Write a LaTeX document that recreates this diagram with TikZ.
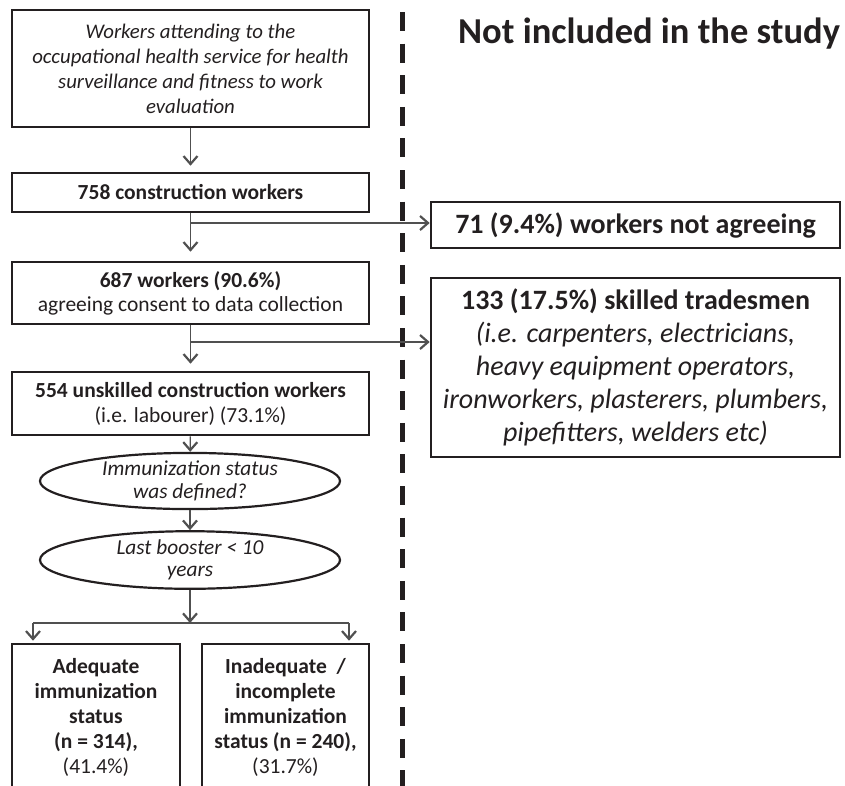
\documentclass[tikz,border=0pt]{standalone}
\usepackage{fontspec}
\setmainfont{Carlito}
\usetikzlibrary{arrows.meta,shapes.geometric}
\definecolor{ink}{HTML}{231F20}
\definecolor{linegray}{HTML}{505050}
\tikzset{
  box/.style={draw=ink, line width=2.6pt, align=center, text=ink, inner sep=0pt, font=\fontsize{21.5}{25}\selectfont},
  sidebox/.style={box, font=\fontsize{28}{33}\selectfont},
  oval/.style={ellipse, draw=ink, line width=2.2pt, align=center, text=ink, inner sep=0pt, minimum width=300pt, minimum height=49pt, font=\fontsize{21.3}{22.5}\selectfont\itshape},
  arrow/.style={-{Straight Barb[length=8pt, width=14pt, line width=2.2pt]}, line width=1.4pt, draw=linegray},
  link/.style={line width=1.4pt, draw=linegray},
  divider/.style={draw=ink, line width=5pt, dash pattern=on 19pt off 12.6pt}
}
\begin{document}
\begin{tikzpicture}[x=1pt, y=-1pt]
  \useasboundingbox (0,0) rectangle (845,785);
  \clip (0,0) rectangle (845,785);
  \draw[divider] (402,12) -- (402,800);
  \node[anchor=base, text=ink, font=\fontsize{36.5}{40}\selectfont\bfseries] (notincl) at (649,43) {Not included in the study};
  \node[box, minimum width=357pt, minimum height=117pt, font=\fontsize{20.8}{25}\selectfont\itshape] (attend) at (190.5,68.5) {Workers attending to the\\occupational health service for health\\surveillance and fitness to work\\evaluation};
  \node[box, minimum width=357pt, minimum height=39pt] (w758) at (190.5,192.5) {\textbf{758 construction workers}};
  \node[box, minimum width=357pt, minimum height=62pt, font=\fontsize{21.5}{24}\selectfont] (w687) at (190.5,293) {\textbf{687 workers (90.6\%)}\\agreeing consent to data collection};
  \node[box, minimum width=357pt, minimum height=63pt] (w554) at (190.5,403.5) {\textbf{554 unskilled construction workers}\\(i.e. labourer) (73.1\%)};
  \node[oval] (defined) at (190,481) {Immunization status\\was defined?};
  \node[oval] (booster) at (190,560) {Last booster < 10\\years};
  \node[box, minimum width=168pt, minimum height=146pt] (adequate) at (96,717) {\textbf{Adequate}\\\textbf{immunization}\\\textbf{status}\\\textbf{(n = 314),}\\(41.4\%)};
  \node[box, minimum width=167pt, minimum height=146pt] (inadequate) at (285.5,717) {\textbf{Inadequate~~/}\\\textbf{incomplete}\\\textbf{immunization}\\\textbf{status (n = 240),}\\(31.7\%)};
  \node[sidebox, minimum width=409pt, minimum height=46pt] (refused) at (635.5,225) {\textbf{71 (9.4\%) workers not agreeing}};
  \node[sidebox, minimum width=409pt, minimum height=179pt] (skilled) at (635.5,367.5) {\textbf{133 (17.5\%) skilled tradesmen}\\\textit{(i.e. carpenters, electricians,}\\\textit{heavy equipment operators,}\\\textit{ironworkers, plasterers, plumbers,}\\\textit{pipefitters, welders etc)}};
  \coordinate (split1) at (190.5,223);
  \coordinate (split2) at (190.5,342);
  \coordinate (fork) at (190,623);
  \coordinate (forkL) at (33,623);
  \coordinate (forkR) at (349,623);
  \draw[arrow, shorten >=6pt] (attend) -- (w758);
  \draw[arrow, shorten >=9pt] (w758) -- (w687);
  \draw[arrow, shorten >=7pt] (w687) -- (w554);
  \draw[arrow] (split1) -- (split1 -| refused.west);
  \draw[arrow] (split2) -- (split2 -| skilled.west);
  \draw[arrow] (w554) -- (defined);
  \draw[arrow] (defined) -- (booster);
  \draw[arrow] (booster) -- (fork);
  \draw[link] (forkL) -- (forkR);
  \draw[arrow, shorten >=2pt] (forkL) -- (forkL |- adequate.north);
  \draw[arrow, shorten >=2pt] (forkR) -- (forkR |- inadequate.north);
\end{tikzpicture}
\end{document}
